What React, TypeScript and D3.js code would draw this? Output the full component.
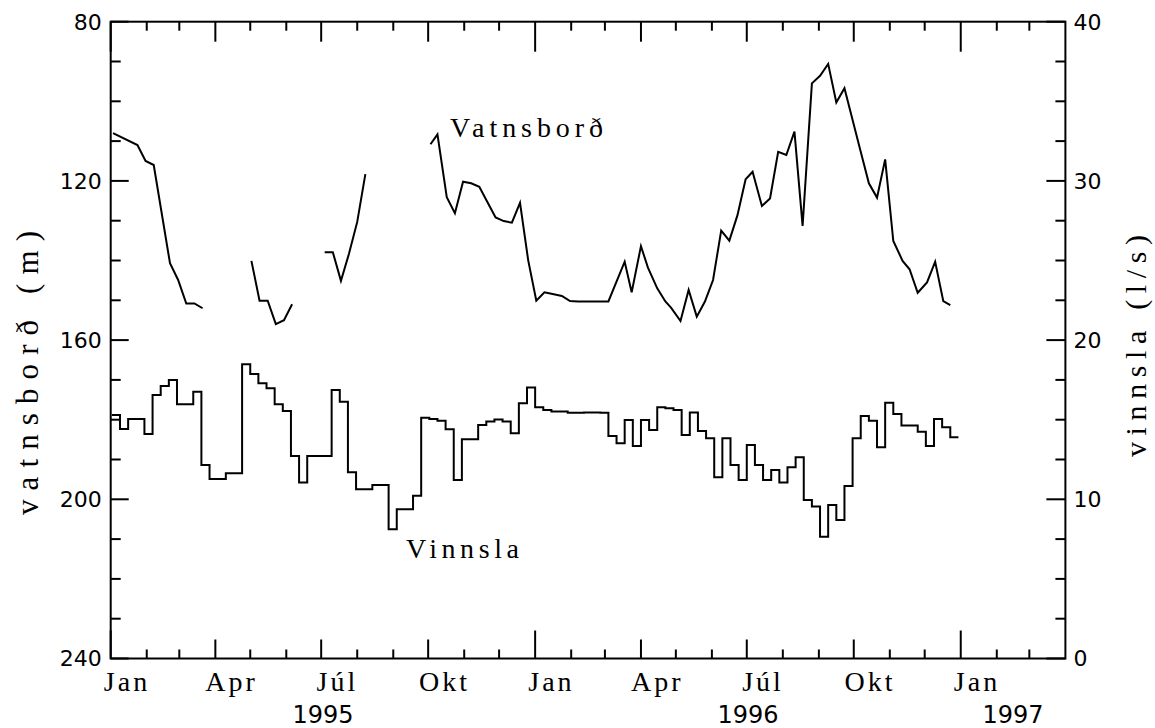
import React, { useEffect, useRef } from "react";
import * as d3 from "d3";

// time span of the chart (UTC), weekly pumping starts on a Monday
const startDate = Date.UTC(1995, 0, 1);
const endDate = Date.UTC(1997, 3, 1);
const vinnslaStart = Date.UTC(1995, 0, 2);

const monthLabels = ["Jan", "Apr", "Júl", "Okt"];
const years = [1995, 1996, 1997];
const leftTicks = [80, 120, 160, 200, 240];
const rightTicks = [0, 10, 20, 30, 40];

// vatnsborð (m), days since 1 Jan 1995 -- null marks a gap in the record
const vatnsDagar = [
  2, 23, 30, 37, 51, 58, 65, 72, 79, null,
  121, 128, 135, 142, 149, 156, null,
  184, 191, 198, 205, 212, 219, null,
  275, 281, 289, 296, 303, 310, 317, 323, 331, 338, 345, 352, 359, 366, 373, 380, 388, 395,
  402, 409, 416, 423, 428, 442, 448, 456, 462, 470, 477, 482, 490, 497, 504, 511, 518, 525,
  532, 539, 546, 552, 560, 567, 574, 581, 588, 595, 603, 610, 617, 624, 631, 638, 645, 652,
  659, 666, 673, 681, 687, 694, 702, 709, 716, 722,
];
const vatnsbord = [
  108.0, 111.0, 115.0, 116.0, 140.7, 144.9, 150.8, 150.8, 152.0, null,
  140.1, 150.1, 150.1, 156.0, 155.0, 151.0, null,
  137.9, 137.9, 145.1, 138.2, 130.3, 118.3, null,
  110.8, 108.3, 124.1, 128.1, 120.2, 120.6, 121.5, 124.8, 129.2, 130.1, 130.5, 125.5, 139.9, 150.1, 148.0, 148.4, 148.9, 150.2,
  150.3, 150.3, 150.3, 150.3, 150.3, 140.3, 148.0, 136.4, 141.8, 147.0, 150.3, 151.9, 155.2, 147.4, 154.1, 150.3, 144.9, 132.5,
  135.0, 128.6, 119.6, 117.7, 126.3, 124.4, 112.7, 113.5, 107.6, 131.3, 95.5, 93.6, 90.6, 100.3, 96.7, 104.7, 112.7, 120.6,
  124.2, 114.6, 135.1, 140.1, 142.2, 148.1, 145.5, 140.3, 150.2, 151.2,
];

// vinnsla (l/s), one value per week from 2 Jan 1995
const vinnsla = [
  15.3, 14.42, 15.05, 15.05, 14.1, 16.55, 17.12, 17.5, 15.97, 15.97,
  16.76, 12.16, 11.28, 11.28, 11.63, 11.63, 18.48, 17.87, 17.29, 16.97,
  15.97, 15.55, 12.72, 11.05, 12.72, 12.72, 12.72, 16.87, 16.13, 11.7,
  10.63, 10.63, 10.9, 10.9, 8.12, 9.37, 9.37, 10.23, 15.13, 15.05,
  14.94, 14.4, 11.21, 13.77, 13.77, 14.67, 14.88, 15.02, 14.88, 14.15,
  16.03, 17.03, 15.78, 15.61, 15.51, 15.51, 15.44, 15.44, 15.46, 15.46,
  15.44, 13.98, 13.52, 14.98, 13.35, 14.98, 14.35, 15.78, 15.72, 15.61,
  14.04, 15.46, 14.29, 13.83, 11.38, 13.83, 12.16, 11.21, 13.41, 12.16,
  11.21, 11.84, 11.05, 12.01, 12.64, 9.96, 9.54, 7.65, 9.64, 8.7,
  10.84, 13.83, 15.23, 14.94, 13.27, 16.07, 15.36, 14.63, 14.63, 14.25,
  13.35, 15.05, 14.52, 13.89,
];

const DAY = 864e5;
const textFont = "'Liberation Serif', 'DejaVu Serif', serif";
const numFont = "'DejaVu Sans', sans-serif";

export default function App() {
  const ref = useRef<SVGSVGElement>(null);

  useEffect(() => {
    const width = 1155;
    const height = 728;
    const left = 110.7;
    const right = 1065.4;
    const top = 21.7;
    const bottom = 658.5;

    const svg = d3.select(ref.current).attr("width", width).attr("height", height);
    svg.selectAll("*").remove();

    const x = d3.scaleUtc().domain([new Date(startDate), new Date(endDate)]).range([left, right]);
    const yL = d3.scaleLinear().domain([80, 240]).range([top, bottom]);
    const yR = d3.scaleLinear().domain([40, 0]).range([top, bottom]);
    const day = (d: number) => new Date(startDate + d * DAY);

    svg.append("rect").attr("width", width).attr("height", height).attr("fill", "#fff");

    const g = svg.append("g").attr("stroke", "#000").attr("stroke-width", 2).attr("fill", "none");

    // frame
    g.append("rect")
      .attr("x", left)
      .attr("y", top)
      .attr("width", right - left)
      .attr("height", bottom - top);

    // month ticks, top and bottom
    const months = d3.utcMonth.range(new Date(startDate), new Date(endDate));
    g.append("g")
      .selectAll("line")
      .data(months)
      .join("line")
      .attr("x1", (d) => x(d))
      .attr("x2", (d) => x(d))
      .attr("y1", top)
      .attr("y2", (d) => top + (d.getUTCMonth() === 0 ? 30 : d.getUTCMonth() % 3 === 0 ? 20 : 9));
    g.append("g")
      .selectAll("line")
      .data(months)
      .join("line")
      .attr("x1", (d) => x(d))
      .attr("x2", (d) => x(d))
      .attr("y1", bottom)
      .attr("y2", (d) => bottom - (d.getUTCMonth() === 0 ? 28 : d.getUTCMonth() % 3 === 0 ? 19 : 9));

    // left ticks every 10 m, right ticks every 2.5 l/s
    g.append("g")
      .selectAll("line")
      .data(d3.range(80, 241, 10))
      .join("line")
      .attr("x1", left)
      .attr("x2", (d) => left + (d % 40 === 0 ? 18 : 10))
      .attr("y1", (d) => yL(d))
      .attr("y2", (d) => yL(d));
    g.append("g")
      .selectAll("line")
      .data(d3.range(0, 40.01, 2.5))
      .join("line")
      .attr("x1", right)
      .attr("x2", (d) => right - (d % 10 === 0 ? 19 : 10))
      .attr("y1", (d) => yR(d))
      .attr("y2", (d) => yR(d));

    // tick labels
    svg.append("g")
      .selectAll("text")
      .data(leftTicks)
      .join("text")
      .attr("x", left - 9)
      .attr("y", (d) => yL(d))
      .attr("dy", "0.36em")
      .attr("text-anchor", "end")
      .attr("font-family", numFont)
      .attr("font-size", 22)
      .text((d) => d);
    svg.append("g")
      .selectAll("text")
      .data(rightTicks)
      .join("text")
      .attr("x", right + 8)
      .attr("y", (d) => yR(d))
      .attr("dy", "0.36em")
      .attr("text-anchor", "start")
      .attr("font-family", numFont)
      .attr("font-size", 22)
      .text((d) => d);

    svg.append("g")
      .selectAll("text")
      .data(months.filter((d) => d.getUTCMonth() % 3 === 0))
      .join("text")
      .attr("x", (d) => x(new Date(+d + 14 * DAY)))
      .attr("y", 690.5)
      .attr("text-anchor", "middle")
      .attr("font-family", textFont)
      .attr("font-size", 28)
      .attr("letter-spacing", 3)
      .text((d) => monthLabels[d.getUTCMonth() / 3]);

    svg.append("g")
      .selectAll("text")
      .data(years)
      .join("text")
      .attr("x", (yr) => {
        const a = Math.max(Date.UTC(yr, 0, 1), startDate);
        const b = Math.min(Date.UTC(yr + 1, 0, 1), endDate);
        return (x(new Date(a)) + x(new Date(b))) / 2;
      })
      .attr("y", 723)
      .attr("text-anchor", "middle")
      .attr("font-family", numFont)
      .attr("font-size", 24)
      .text((d) => d);

    // axis titles
    svg.append("text")
      .attr("transform", "translate(38,373) rotate(-90)")
      .attr("text-anchor", "middle")
      .attr("font-family", textFont)
      .attr("font-size", 31)
      .attr("textLength", 284)
      .attr("lengthAdjust", "spacing")
      .text("vatnsborð (m)");
    svg.append("text")
      .attr("transform", "translate(1146,346) rotate(-90)")
      .attr("text-anchor", "middle")
      .attr("font-family", textFont)
      .attr("font-size", 30)
      .attr("textLength", 222)
      .attr("lengthAdjust", "spacing")
      .text("vinnsla (l/s)");

    // series
    const idx = d3.range(vatnsbord.length);
    const vLine = d3
      .line<number>()
      .defined((i) => vatnsbord[i] != null)
      .x((i) => x(day(vatnsDagar[i] as number)))
      .y((i) => yL(vatnsbord[i] as number));
    g.append("path").attr("d", vLine(idx));

    const pts: [Date, number][] = vinnsla.map((v, i) => [new Date(vinnslaStart + i * 7 * DAY), v]);
    pts.push([new Date(vinnslaStart + vinnsla.length * 7 * DAY), vinnsla[vinnsla.length - 1]]);
    const sLine = d3
      .line<[Date, number]>()
      .curve(d3.curveStepAfter)
      .x((d) => x(d[0]))
      .y((d) => yR(d[1]));
    g.append("path").attr("d", sLine(pts));

    // series labels
    svg.append("text")
      .attr("x", 450)
      .attr("y", 137)
      .attr("font-family", textFont)
      .attr("font-size", 28)
      .attr("textLength", 153)
      .attr("lengthAdjust", "spacing")
      .text("Vatnsborð");
    svg.append("text")
      .attr("x", 406)
      .attr("y", 558)
      .attr("font-family", textFont)
      .attr("font-size", 28)
      .attr("textLength", 113)
      .attr("lengthAdjust", "spacing")
      .text("Vinnsla");
  }, []);

  return <svg ref={ref} style={{ position: "absolute", left: 0, top: 0, display: "block" }}></svg>;
}
